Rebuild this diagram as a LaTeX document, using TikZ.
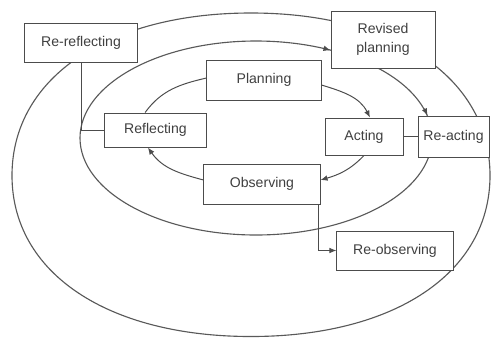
\documentclass[tikz,border=0pt]{standalone}
\usepackage{fontspec}
\setmainfont{Liberation Sans}
\usepackage{tikz}
\usetikzlibrary{arrows.meta}
\tikzset{every edge/.style={draw, black!70, line width=0.7pt}}
\tikzset{box/.style={draw=black!70, line width=0.7pt, fill=white, text=black!75, inner sep=0pt, align=center}}
\tikzset{ring/.style={draw=black!65, line width=0.8pt}}

\begin{document}
\begin{tikzpicture}[x=0.025cm, y=0.025cm, >={Latex[length=5pt,width=4pt]}]      % rings first
    \path[use as bounding box] (0, 0) rectangle (492, -338);

    \draw[ring] (490,-175.5) .. controls (490,-78) and (394.4,-13) .. (251,-13)
        .. controls (107.6,-13) and (12,-78) .. (12,-175.5)
        .. controls (12,-273) and (107.6,-336.5) .. (251,-336.5)
        .. controls (394.4,-336.5) and (490,-273) .. (490,-175.5) -- cycle;
    \draw[ring] (256,-138) ellipse [x radius=176, y radius=97];

    \node[box, minimum width=2.8cm, minimum height=0.975cm] at (81, -42.5) (ReRefl) {Re-reflecting};
    \node[box, minimum width=2.6cm, minimum height=1.425cm] at (383, -39.5) (RevPlan) {Revised\\[2pt]planning};
    \node[box, minimum width=2.85cm, minimum height=1.0cm] at (264, -80) (Plan) {Planning};
    \node[box, minimum width=2.525cm, minimum height=0.85cm] at (155.5, -130) (Refl) {Reflecting};
    \node[box, minimum width=1.95cm, minimum height=0.925cm] at (364, -136.5) (Act) {Acting};
    \node[box, minimum width=1.775cm, minimum height=1.025cm] at (453.5, -136.5) (ReAct) {Re-acting};
    \node[box, minimum width=2.9cm, minimum height=1.0cm] at (262, -184) (Obs) {Observing};
    \node[box, minimum width=2.9cm, minimum height=0.975cm] at (395, -250.5) (ReObs) {Re-observing};

    % inner cycle
    \draw ([yshift=-0.125cm]Plan.east) edge[->, out=-17, in=117] ([xshift=0.15cm]Act.north);
    \draw (Act.south) edge[->, out=-134, in=16] ([yshift=0.1cm]Obs.east);
    \draw ([yshift=0.1cm]Obs.west) edge[->, out=165, in=-55] ([xshift=-0.19cm]Refl.south);
    \draw ([xshift=-0.26cm]Refl.north) edge[out=54, in=-167] ([yshift=0.05cm]Plan.west);

    % arrow tips on the middle ring
    \coordinate (mT) at (323.3, -48.2);
    \coordinate (mR) at (424.3, -108.6);
    \draw (mT) edge[->] ([yshift=-0.27cm]RevPlan.west);
    \draw (mR) edge[->] ([xshift=-0.65cm]ReAct.north);

    \draw (Act.east) edge (Act.east -| ReAct.west);
    \draw[black!70, line width=0.7pt] (Refl.west) -| (ReRefl.south);
    \draw[black!70, line width=0.7pt, ->] ([xshift=-0.05cm]Obs.south east) |- (ReObs.west);
\end{tikzpicture}
\end{document}
